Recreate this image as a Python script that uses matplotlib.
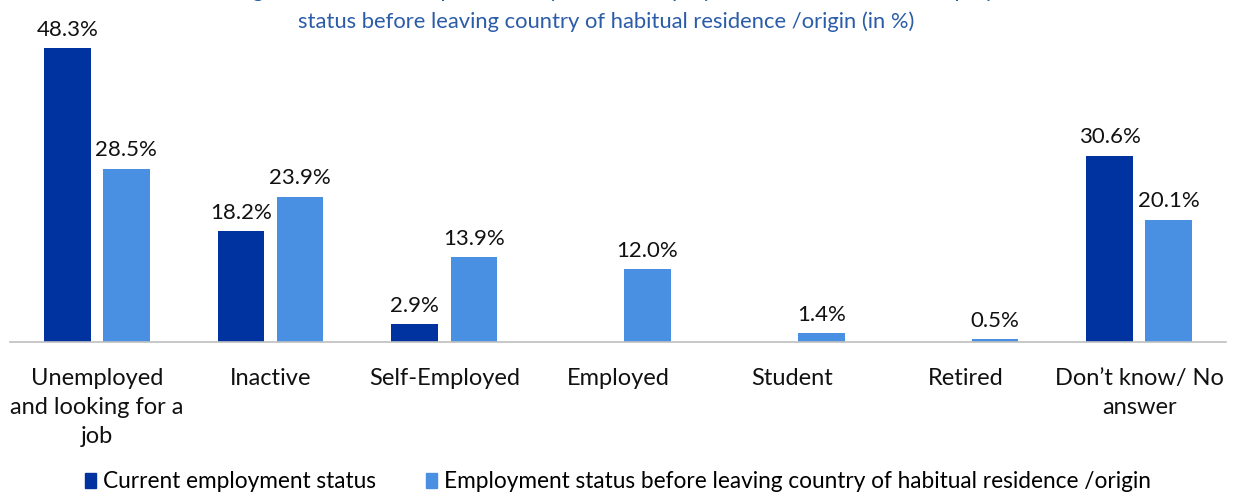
import matplotlib.pyplot as plt
import numpy as np
from matplotlib.patches import Patch

plt.rcParams['font.family'] = ['Lato', 'DejaVu Sans']

categories = ["Unemployed\nand looking for a\njob", "Inactive", "Self-Employed",
              "Employed", "Student", "Retired", "Don\u2019t know/ No\nanswer"]
current = [48.3, 18.2, 2.9, np.nan, np.nan, np.nan, 30.6]
before = [28.5, 23.9, 13.9, 12.0, 1.4, 0.5, 20.1]
series_names = ["Current employment status",
                "Employment status before leaving country of habitual residence /origin"]
title_lines = ["Figure 4: Share of respondents by current employment status and their employment",
               "status before leaving country of habitual residence /origin (in %)"]

dark = '#0033a0'
light = '#4a90e2'
title_col = '#2b5ca8'

W, H = 1234, 492
fig = plt.figure(figsize=(W / 100, H / 100), dpi=100)
ax = fig.add_axes([10 / W, (H - 342) / H, 1216 / W, 342 / H])

x = np.arange(len(categories))
bw = 0.268
off = 0.17
b1 = ax.bar(x - off, current, bw, color=dark, zorder=2)
b2 = ax.bar(x + off, before, bw, color=light, zorder=2)

for bars, vals in ((b1, current), (b2, before)):
    for rect, v in zip(bars, vals):
        if np.isnan(v):
            continue
        ax.annotate(f"{v:.1f}%", (rect.get_x() + rect.get_width() / 2, v),
                    xytext=(0, 6), textcoords='offset points',
                    ha='center', va='bottom', fontsize=16, color='#111111')

ax.set_xlim(-0.5, 6.5)
ax.set_ylim(0, 56.2)
ax.set_yticks([])
ax.set_xticks(x)
ax.set_xticklabels(categories, fontsize=17, color='#111111', linespacing=1.45)
ax.tick_params(axis='x', length=0, pad=19)
for s in ('top', 'right', 'left'):
    ax.spines[s].set_visible(False)
ax.spines['bottom'].set_color('#bfbfbf')
ax.spines['bottom'].set_linewidth(1.2)

# the first title line runs off the top edge, only its lower part shows
fig.text(640 / W, 1 + 9 / H, title_lines[0], ha='center', va='center',
         fontsize=15.8, color=title_col)
fig.text(606 / W, 1 - 22 / H, title_lines[1], ha='center', va='center',
         fontsize=15.8, color=title_col)

handles = [Patch(color=dark), Patch(color=light)]
fig.legend(handles, series_names, loc='center', bbox_to_anchor=(618 / W, 1 - 482 / H),
           ncol=2, frameon=False, fontsize=16.3, handlelength=0.5, handleheight=0.6,
           handletextpad=0.3, columnspacing=2.2, borderaxespad=0)

fig.savefig('out.png', dpi=100)
